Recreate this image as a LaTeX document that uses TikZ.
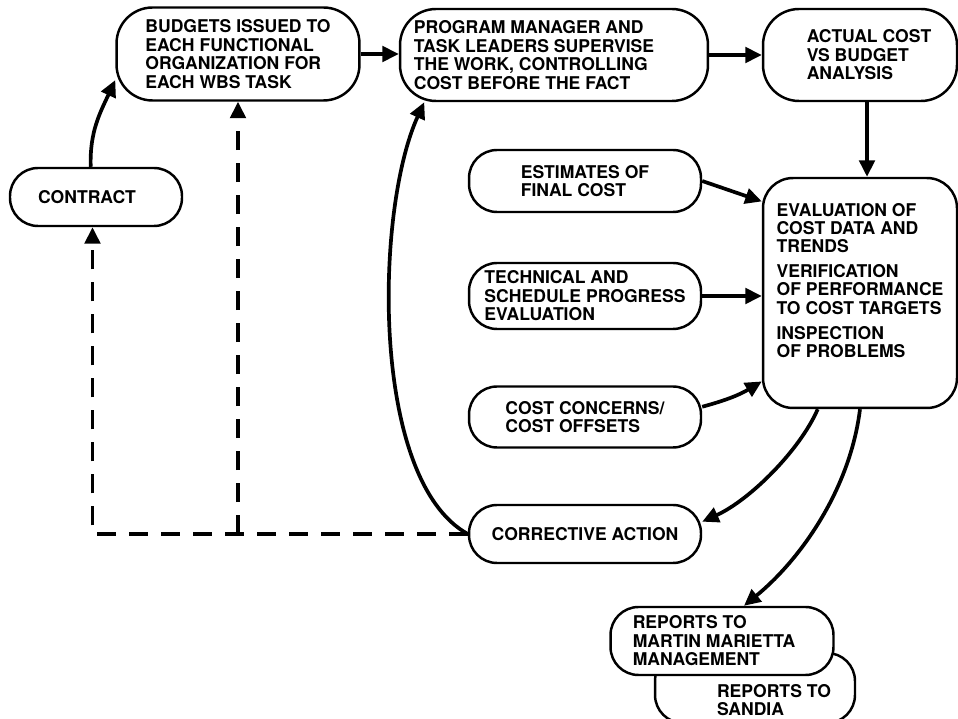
\documentclass[tikz,border=0pt]{standalone}
\usepackage{fontspec}
\setmainfont{TeX Gyre Heros}
\usetikzlibrary{arrows.meta}

\begin{document}
\begin{tikzpicture}[x=0.02cm,y=-0.02cm,
  box/.style={draw,line width=1.4pt,rounded corners=0.56cm,fill=white,align=left,inner sep=2pt,
    font=\bfseries\fontsize{10}{10.5}\selectfont},
  tallbox/.style={box,rounded corners=0.72cm},
  flow/.style={line width=2.1pt,-{Triangle[length=0.33cm,width=0.31cm]}},
  back/.style={flow,dash pattern=on 0.38cm off 0.26cm}]
\useasboundingbox (0,0) rectangle (958,719);

\node [box,minimum width=3.44cm,minimum height=1.16cm] (contract) at (96,197) {CONTRACT\rule{0.36cm}{0pt}};
\node [tallbox,minimum width=4.86cm,minimum height=1.86cm] (budgets) at (238,54) {BUDGETS ISSUED TO\\EACH FUNCTIONAL\\ORGANIZATION FOR\\EACH WBS TASK};
\node [tallbox,minimum width=6.16cm,minimum height=1.84cm] (program) at (554,55) {PROGRAM MANAGER AND\\TASK LEADERS SUPERVISE\rule{0.8cm}{0pt}\\THE WORK, CONTROLLING\\COST BEFORE THE FACT};
\node [tallbox,minimum width=3.88cm,minimum height=1.84cm] (actual) at (860,55) {\hspace*{0.36cm}ACTUAL COST\\\hspace*{0.36cm}VS BUDGET\\\hspace*{0.36cm}ANALYSIS};
\node [box,rounded corners=0.6cm,minimum width=3.88cm,minimum height=4.6cm] (eval) at (860,293) {EVALUATION OF\\COST DATA AND\\TRENDS\\[3.5pt]VERIFICATION\\OF PERFORMANCE\\TO COST TARGETS\\[3.5pt]INSPECTION\\OF PROBLEMS\\[4pt]\mbox{}};

\node [box,minimum width=4.64cm,minimum height=1.24cm] (estimates) at (585,181) {ESTIMATES OF\\FINAL COST};
\node [box,minimum width=4.64cm,minimum height=1.32cm] (technical) at (585,296) {TECHNICAL AND\\SCHEDULE PROGRESS\\EVALUATION};
\node [box,minimum width=4.64cm,minimum height=1.22cm] (concerns) at (585,417) {COST CONCERNS/\\COST OFFSETS};
\node [box,minimum width=4.64cm,minimum height=1.16cm] (corrective) at (585,534) {CORRECTIVE ACTION};

\node [box,minimum width=4cm,minimum height=1.4cm] (sandia) at (755,688) {\rule{0pt}{21pt}\hspace*{0.76cm}REPORTS TO\\\hspace*{0.76cm}SANDIA};
\node [box,minimum width=4.46cm,minimum height=1.36cm] (reports) at (722,641) {REPORTS TO\\MARTIN MARIETTA\rule{0.32cm}{0pt}\\MANAGEMENT};

\draw [flow] ([xshift=-3pt]contract.north) to[out=92,in=245] (budgets.192);
\draw [flow] (budgets.east) -- (budgets.east -| program.west);
\draw [flow] (program.east) -- (actual.west);
\draw [flow] ([xshift=4pt]actual.south) -- ([xshift=4pt]actual.south |- eval.north);

\draw [flow] (estimates.east) -- (eval.137);
\draw [flow] (technical.east) -- (technical.east -| eval.west);
\draw [flow] (concerns.5) to[bend right=8] (eval.222);

\draw [flow] (eval.250) .. controls (800,450) and (750,500) .. (corrective.6);
\draw [flow] (eval.south) .. controls (850,490) and (800,560) .. (reports.58);
\draw [flow] (corrective.west) .. controls (370,480) and (375,210) .. (program.200);

\draw [back] (corrective.west) -| ([xshift=-2pt]contract.south);
\draw [back] (corrective.west -| budgets.south) -- (budgets.south);
\end{tikzpicture}
\end{document}
